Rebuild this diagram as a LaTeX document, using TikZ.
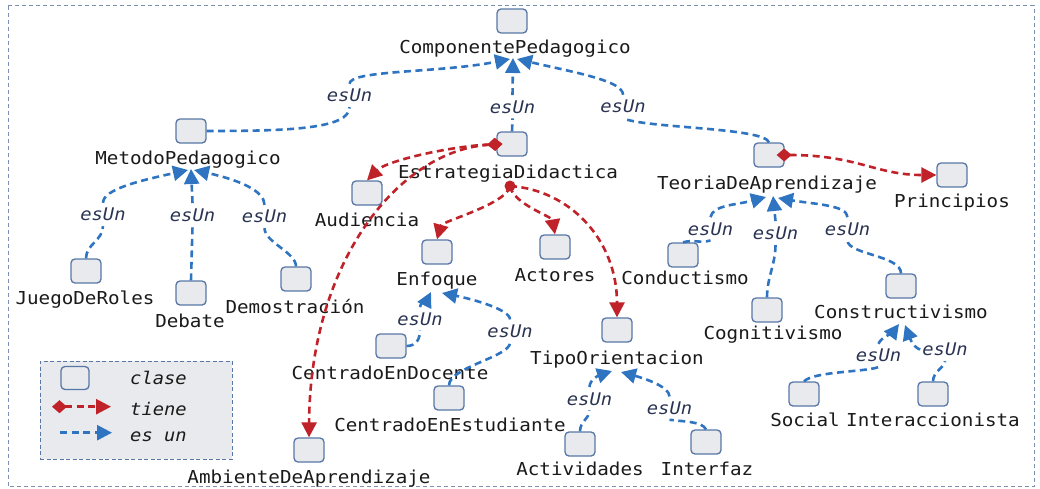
\documentclass[tikz,border=0pt]{standalone}
\usepackage{fontspec}
\newfontfamily\monof[FakeStretch=1.08]{DejaVu Sans Mono}
\usetikzlibrary{arrows.meta,calc}
\definecolor{boxfill}{HTML}{E8EAED}
\definecolor{boxline}{HTML}{5876A6}
\definecolor{esblue}{HTML}{2F74C0}
\definecolor{tred}{HTML}{C0222A}
\definecolor{txt}{HTML}{1A1A1A}
\definecolor{lbl}{HTML}{2A3452}
\definecolor{framec}{HTML}{7D90B0}
\tikzset{
 cls/.style={draw=boxline, fill=boxfill, rounded corners=4pt, line width=1.3pt, minimum width=30pt, minimum height=24pt, inner sep=0pt},
 lab/.style={font=\monof\fontsize{17.8}{20}\selectfont, text=txt, anchor=base, inner sep=0pt},
 esl/.style={font=\monof\itshape\fontsize{17.4}{20}\selectfont, text=lbl, anchor=base, inner xsep=2pt, inner ysep=5pt},
 legt/.style={font=\monof\itshape\fontsize{17.4}{20}\selectfont, text=txt, anchor=base west, inner sep=0pt},
 esunl/.style={draw=esblue, line width=2.6pt, dash pattern=on 7pt off 4.5pt},
 esun/.style={esunl, -{Triangle[length=15pt,width=15pt]}},
 tienen/.style={draw=tred, line width=2.6pt, dash pattern=on 7pt off 4.5pt, -{Triangle[length=15pt,width=15pt]}},
 tiene/.style={tienen, {Diamond[length=15pt,width=13pt]}-{Triangle[length=15pt,width=15pt]}},
}
\begin{document}
\begin{tikzpicture}[x=1pt,y=-1pt]
\useasboundingbox (0,0) rectangle (1040,488);
\draw[framec, line width=1pt, dash pattern=on 4pt off 3pt] (8,5.5) rectangle (1034,486.5);

% legend
\node[draw=boxline, fill=boxfill, line width=1pt, dash pattern=on 4pt off 2.5pt, minimum width=192pt, minimum height=98pt, inner sep=0pt] (leg) at (136,410) {};
\node[cls, minimum width=28pt, minimum height=23pt] (legc) at (75,378) {};
\node[legt] (legt1) at (130,384) {clase};
\node[legt] (legt2) at (130,415.7) {tiene};
\node[legt] (legt3) at (130,441.7) {es un};
\coordinate (lt1) at (52,406.7);
\coordinate (lt2) at (111,406.7);
\coordinate (le1) at (60,432.7);
\coordinate (le2) at (112,432.7);

% classes
\node[cls] (cp) at (512,21) {};   \node[lab] (cpL) at (515,53) {ComponentePedagogico};
\node[cls] (mp) at (191,131) {};  \node[lab] (mpL) at (188,164) {MetodoPedagogico};
\node[cls] (ed) at (512,144) {};  \node[lab] (edL) at (508,178) {EstrategiaDidactica};
\node[cls] (aud) at (367,193) {}; \node[lab] (audL) at (367,226) {Audiencia};
\node[cls] (enf) at (437,252) {}; \node[lab] (enfL) at (437,285) {Enfoque};
\node[cls] (act) at (555,247) {}; \node[lab] (actL) at (555,281) {Actores};
\node[cls] (tori) at (617,330) {}; \node[lab] (toriL) at (617,364) {TipoOrientacion};
\node[cls] (tda) at (769,155) {}; \node[lab] (tdaL) at (767,189) {TeoriaDeAprendizaje};
\node[cls] (pri) at (952,175) {}; \node[lab] (priL) at (952,207) {Principios};
\node[cls] (jdr) at (86,271) {};  \node[lab] (jdrL) at (85,304) {JuegoDeRoles};
\node[cls] (deb) at (191,293) {}; \node[lab] (debL) at (190,327) {Debate};
\node[cls] (dem) at (296,279) {}; \node[lab] (demL) at (295,313) {Demostración};
\node[cls] (amb) at (309,450) {}; \node[lab] (ambL) at (309,483) {AmbienteDeAprendizaje};
\node[cls] (ced) at (391,346) {}; \node[lab] (cedL) at (390,379) {CentradoEnDocente};
\node[cls] (cee) at (449,398) {}; \node[lab] (ceeL) at (450,431) {CentradoEnEstudiante};
\node[cls] (acti) at (580,444) {};\node[lab] (actiL) at (580,475) {Actividades};
\node[cls] (inf) at (706,442) {}; \node[lab] (infL) at (707,475) {Interfaz};
\node[cls] (cond) at (683,255) {};\node[lab] (condL) at (685,284) {Conductismo};
\node[cls] (cog) at (767,310) {}; \node[lab] (cogL) at (773,339) {Cognitivismo};
\node[cls] (cons) at (901,286) {};\node[lab] (consL) at (901,318) {Constructivismo};
\node[cls] (soc) at (804,394) {}; \node[lab] (socL) at (805,426) {Social};
\node[cls] (inta) at (933,394) {};\node[lab] (intaL) at (933,426) {Interaccionista};

% esUn labels
\node[esl] (l1) at (349.5,101.7) {esUn};
\node[esl] (l2) at (512.5,113) {esUn};
\node[esl] (l3) at (623,112.7) {esUn};
\node[esl] (l4) at (103,220.7) {esUn};
\node[esl] (l5) at (192.5,221) {esUn};
\node[esl] (l6) at (264.5,222.7) {esUn};
\node[esl] (l7) at (710.5,235) {esUn};
\node[esl] (l8) at (775.5,239) {esUn};
\node[esl] (l9) at (847.5,235) {esUn};
\node[esl] (l10) at (420,325) {esUn};
\node[esl] (l11) at (510,337.3) {esUn};
\node[esl] (l12) at (589.5,405) {esUn};
\node[esl] (l13) at (669.5,414.3) {esUn};
\node[esl] (l14) at (878.5,361.7) {esUn};
\node[esl] (l15) at (945,355.7) {esUn};

% arrow tip points
\coordinate (cpT1) at (510,59);  \coordinate (cpT2) at (513,58);  \coordinate (cpT3) at (517,59);
\coordinate (mpT1) at (188,170); \coordinate (mpT2) at (191,169); \coordinate (mpT3) at (194,170);
\coordinate (tdaT1) at (766,197);\coordinate (tdaT2) at (773,196);\coordinate (tdaT3) at (778,198);
\coordinate (enfT1) at (431,292);\coordinate (enfT2) at (442,293);
\coordinate (toT1) at (612,371); \coordinate (toT2) at (621,372);
\coordinate (consT1) at (899,324);\coordinate (consT2) at (905,325);

% esUn edges
\draw[esunl] (mp.east) .. controls +(80,0) and +(0,22) .. (l1.south);
\draw[esun] (l1.north) .. controls +(0,-14) and +(-70,14) .. (cpT1);
\draw[esunl] (ed.north) -- (l2.south);
\draw[esun] (l2.north) -- (cpT2);
\draw[esunl] (tda.north) .. controls +(-5,-15) and +(20,10) .. (l3.south);
\draw[esun] (l3.north) .. controls +(0,-14) and +(60,14) .. (cpT3);

\draw[esunl] (jdr.north) .. controls +(0,-14) and +(0,14) .. (l4.south);
\draw[esun] (l4.north) .. controls +(0,-14) and +(-45,10) .. (mpT1);
\draw[esunl] (deb.north) -- (l5.south);
\draw[esun] (l5.north) -- (mpT2);
\draw[esunl] (dem.north) .. controls +(0,-14) and +(0,14) .. (l6.south);
\draw[esun] (l6.north) .. controls +(0,-14) and +(45,10) .. (mpT3);

\draw[esunl] (cond.north) .. controls +(10,-3) and +(-10,3) .. (l7.south);
\draw[esun] (l7.north) .. controls +(2,-12) and +(-30,8) .. (tdaT1);
\draw[esunl] (cog.north) .. controls +(0,-20) and +(0,20) .. (l8.south);
\draw[esun] (l8.north) -- (tdaT2);
\draw[esunl] (cons.north) .. controls +(0,-18) and +(0,14) .. (l9.south);
\draw[esun] (l9.north) .. controls +(0,-12) and +(35,6) .. (tdaT3);

\draw[esunl] (ced.east) .. controls +(10,0) and +(0,8) .. (l10.south);
\draw[esun] (l10.north) .. controls +(0,-6) and +(-3,6) .. (enfT1);
\draw[esunl] (cee.north) .. controls +(0,-18) and +(0,14) .. (l11.south);
\draw[esun] (l11.north) .. controls +(0,-10) and +(30,6) .. (enfT2);

\draw[esunl] (acti.north) .. controls +(0,-10) and +(0,8) .. (l12.south);
\draw[esun] (l12.north) .. controls +(0,-8) and +(-12,4) .. (toT1);
\draw[esunl] (inf.north) .. controls +(-4,-8) and +(15,2) .. (l13.south);
\draw[esun] (l13.north) .. controls +(0,-10) and +(22,6) .. (toT2);

\draw[esunl] (soc.north) .. controls +(10,-10) and +(-15,5) .. (l14.south);
\draw[esun] (l14.north) .. controls +(2,-6) and +(-6,8) .. (consT1);
\draw[esunl] (inta.north) .. controls +(0,-10) and +(0,6) .. (l15.south);
\draw[esun] (l15.west) .. controls +(-8,-2) and +(3,8) .. (consT2);

% tiene edges
\draw[tiene] ([xshift=6pt]ed.west) .. controls +(-50,2) and +(20,-20) .. (aud.north);
\draw[tiene] ([xshift=6pt]ed.west) .. controls (400,150) and (310,260) .. (amb.north);
\node[circle, fill=tred, minimum size=11pt, inner sep=0pt] (dot) at (510,186) {};
\draw[tienen] (dot.center) .. controls +(-3,18) and +(5,-18) .. (enf.north);
\draw[tienen] (dot.center) .. controls +(3,18) and +(-3,-18) .. (act.north);
\draw[tienen] (dot.center) .. controls (570,190) and (617,240) .. (tori.north);
\draw[tiene] ([xshift=-8pt]tda.east) .. controls +(80,0) and +(-60,0) .. (pri.west);

% legend lines
\draw[tiene] (lt1) -- (lt2);
\draw[esun] (le1) -- (le2);
\end{tikzpicture}
\end{document}
